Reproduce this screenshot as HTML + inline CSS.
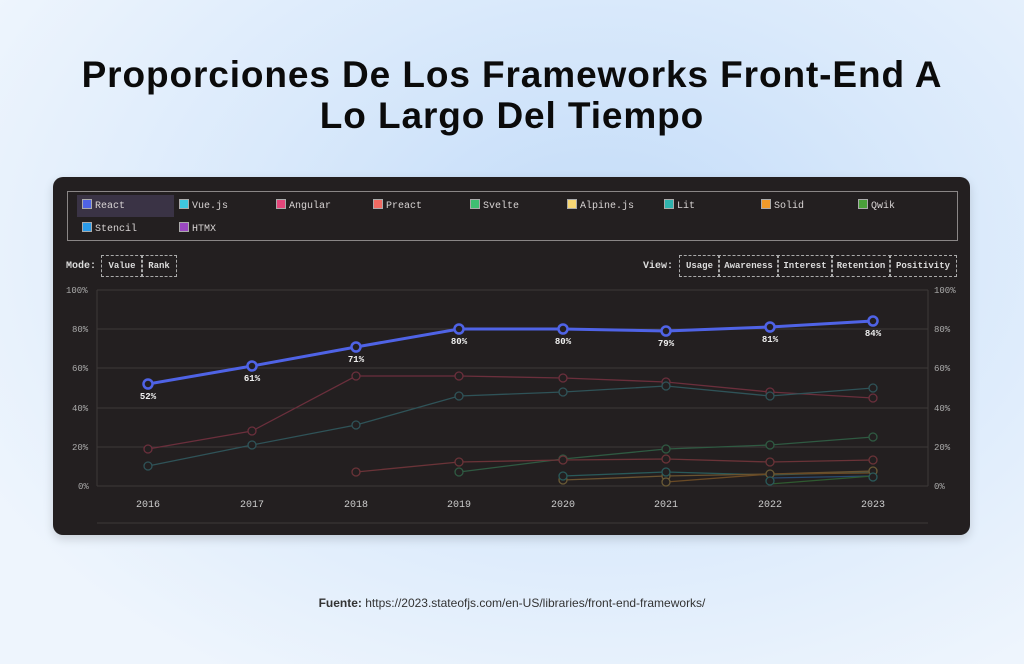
<!DOCTYPE html>
<html><head><meta charset="utf-8"><style>
html,body{margin:0;padding:0}
body{width:1024px;height:664px;overflow:hidden;position:relative;font-family:"Liberation Sans",sans-serif;
background:radial-gradient(ellipse 700px 500px at 600px 250px,#c2dbf8 0%,#d9e9fb 50%,#eef5fd 100%);}
h1{position:absolute;top:54px;left:0;width:1024px;margin:0;text-align:center;font-size:37px;line-height:41px;font-weight:bold;color:#0b0b0b;letter-spacing:0.9px}
.panel{position:absolute;left:53px;top:177px;width:917px;height:358px;background:#231f20;border-radius:10px;box-shadow:0 4px 10px rgba(0,0,0,.15)}
.leg{position:absolute;left:14px;top:14px;width:889px;height:48px;border:1px solid #8a8686;}
.li{position:absolute;font-size:10px;color:#d8d4d4;font-family:"Liberation Mono",monospace}
.li i{display:inline-block;width:8px;height:8px;border:1px solid #aaa;margin-right:3px;vertical-align:-1px}
.btn{position:absolute;border:1px dashed #aaa;font-size:9px;font-weight:bold;color:#ddd;text-align:center;line-height:20px;height:20px;font-family:"Liberation Mono",monospace}
.lab{position:absolute;font-size:10px;font-weight:bold;color:#ddd;font-family:"Liberation Mono",monospace}
.foot{position:absolute;top:596px;left:0;width:1024px;text-align:center;font-size:12px;color:#333}
</style></head><body>
<h1>Proporciones De Los Frameworks Front-End A<br>Lo Largo Del Tiempo</h1>
<div class="panel">
<div class="leg">
<div style="position:absolute;left:9px;top:3px;width:97px;height:22px;background:#3a3345"></div>
<div class="li" style="left:14px;top:7px"><i style="background:#4f63e6"></i>React</div>
<div class="li" style="left:111px;top:7px"><i style="background:#3ec7df"></i>Vue.js</div>
<div class="li" style="left:208px;top:7px"><i style="background:#e2467a"></i>Angular</div>
<div class="li" style="left:305px;top:7px"><i style="background:#f06a62"></i>Preact</div>
<div class="li" style="left:402px;top:7px"><i style="background:#3fbf72"></i>Svelte</div>
<div class="li" style="left:499px;top:7px"><i style="background:#f7d774"></i>Alpine.js</div>
<div class="li" style="left:596px;top:7px"><i style="background:#2fb3ae"></i>Lit</div>
<div class="li" style="left:693px;top:7px"><i style="background:#f09a2a"></i>Solid</div>
<div class="li" style="left:790px;top:7px"><i style="background:#4aa03a"></i>Qwik</div>
<div class="li" style="left:14px;top:30px"><i style="background:#2a9ae8"></i>Stencil</div>
<div class="li" style="left:111px;top:30px"><i style="background:#9a48c0"></i>HTMX</div>
</div>
<div class="lab" style="left:13px;top:84px">Mode:</div>
<div class="btn" style="left:48px;top:78px;width:40px">Value</div>
<div class="btn" style="left:88px;top:78px;width:34px">Rank</div>
<div class="lab" style="left:590px;top:84px">View:</div>
<div class="btn" style="left:626px;top:78px;width:39px">Usage</div>
<div class="btn" style="left:665px;top:78px;width:59px">Awareness</div>
<div class="btn" style="left:724px;top:78px;width:54px">Interest</div>
<div class="btn" style="left:778px;top:78px;width:58px">Retention</div>
<div class="btn" style="left:836px;top:78px;width:66px">Positivity</div>
</div>
<svg width="1024" height="664" style="position:absolute;left:0;top:0" font-family="Liberation Mono,monospace">
<g stroke="#3c3838" stroke-width="1">
<line x1="97" y1="290" x2="928" y2="290"/><line x1="97" y1="329" x2="928" y2="329"/><line x1="97" y1="368" x2="928" y2="368"/><line x1="97" y1="408" x2="928" y2="408"/><line x1="97" y1="447" x2="928" y2="447"/><line x1="97" y1="486" x2="928" y2="486"/>
<line x1="97" y1="290" x2="97" y2="486"/><line x1="928" y1="290" x2="928" y2="486"/>
<line x1="97" y1="523" x2="928" y2="523"/>
</g>
<g fill="#aaa" font-size="9">
<text x="66" y="293">100%</text><text x="72" y="332">80%</text><text x="72" y="371">60%</text><text x="72" y="411">40%</text><text x="72" y="450">20%</text><text x="78" y="489">0%</text>
<text x="934" y="293">100%</text><text x="934" y="332">80%</text><text x="934" y="371">60%</text><text x="934" y="411">40%</text><text x="934" y="450">20%</text><text x="934" y="489">0%</text>
</g>
<g fill="#ccc" font-size="10" text-anchor="middle">
<text x="148" y="507">2016</text><text x="252" y="507">2017</text><text x="356" y="507">2018</text><text x="459" y="507">2019</text><text x="563" y="507">2020</text><text x="666" y="507">2021</text><text x="770" y="507">2022</text><text x="873" y="507">2023</text>
</g>
<g fill="#231f20" stroke-width="1.3">
<polyline fill="none" stroke="#6b2f3c" points="148,449 252,431 356,376 459,376 563,378 666,382 770,392 873,398"/>
<g stroke="#6b2f3c"><circle cx="148" cy="449" r="4"/><circle cx="252" cy="431" r="4"/><circle cx="356" cy="376" r="4"/><circle cx="459" cy="376" r="4"/><circle cx="563" cy="378" r="4"/><circle cx="666" cy="382" r="4"/><circle cx="770" cy="392" r="4"/><circle cx="873" cy="398" r="4"/></g>
<polyline fill="none" stroke="#2f5358" points="148,466 252,445 356,425 459,396 563,392 666,386 770,396 873,388"/>
<g stroke="#2f5358"><circle cx="148" cy="466" r="4"/><circle cx="252" cy="445" r="4"/><circle cx="356" cy="425" r="4"/><circle cx="459" cy="396" r="4"/><circle cx="563" cy="392" r="4"/><circle cx="666" cy="386" r="4"/><circle cx="770" cy="396" r="4"/><circle cx="873" cy="388" r="4"/></g>
<polyline fill="none" stroke="#2f5a42" points="459,472 563,459 666,449 770,445 873,437"/>
<g stroke="#2f5a42"><circle cx="459" cy="472" r="4"/><circle cx="563" cy="459" r="4"/><circle cx="666" cy="449" r="4"/><circle cx="770" cy="445" r="4"/><circle cx="873" cy="437" r="4"/></g>
<polyline fill="none" stroke="#6b3338" points="356,472 459,462 563,460 666,459 770,462 873,460"/>
<g stroke="#6b3338"><circle cx="356" cy="472" r="4"/><circle cx="459" cy="462" r="4"/><circle cx="563" cy="460" r="4"/><circle cx="666" cy="459" r="4"/><circle cx="770" cy="462" r="4"/><circle cx="873" cy="460" r="4"/></g>
<polyline fill="none" stroke="#2a5a5a" points="563,476 666,472 770,475 873,472"/>
<polyline fill="none" stroke="#6a5330" points="563,480 666,476 770,474 873,471"/>
<polyline fill="none" stroke="#6a4a25" points="666,482 770,474 873,473"/>
<polyline fill="none" stroke="#2a4a70" points="770,478 873,476"/>
<polyline fill="none" stroke="#2f5a30" points="770,484 873,476"/>
<g stroke="#6a5a35"><circle cx="563" cy="480" r="4"/><circle cx="666" cy="476" r="4"/><circle cx="770" cy="474" r="4"/><circle cx="873" cy="471" r="4"/><circle cx="666" cy="482" r="4"/></g>
<g stroke="#2a5a5a"><circle cx="563" cy="476" r="4"/><circle cx="666" cy="472" r="4"/><circle cx="873" cy="477" r="4"/><circle cx="770" cy="481" r="4"/></g>
<polyline fill="none" stroke="#4f63e6" stroke-width="3" points="148,384 252,366 356,347 459,329 563,329 666,331 770,327 873,321"/>
<g stroke="#4f63e6" stroke-width="2.5"><circle cx="148" cy="384" r="4.5"/><circle cx="252" cy="366" r="4.5"/><circle cx="356" cy="347" r="4.5"/><circle cx="459" cy="329" r="4.5"/><circle cx="563" cy="329" r="4.5"/><circle cx="666" cy="331" r="4.5"/><circle cx="770" cy="327" r="4.5"/><circle cx="873" cy="321" r="4.5"/></g>
</g>
<g fill="#eee" font-size="9" font-weight="bold" text-anchor="middle">
<text x="148" y="399">52%</text><text x="252" y="381">61%</text><text x="356" y="362">71%</text><text x="459" y="344">80%</text><text x="563" y="344">80%</text><text x="666" y="346">79%</text><text x="770" y="342">81%</text><text x="873" y="336">84%</text>
</g>
</svg>
<div class="foot"><b>Fuente:</b> https://2023.stateofjs.com/en-US/libraries/front-end-frameworks/</div>
</body></html>
